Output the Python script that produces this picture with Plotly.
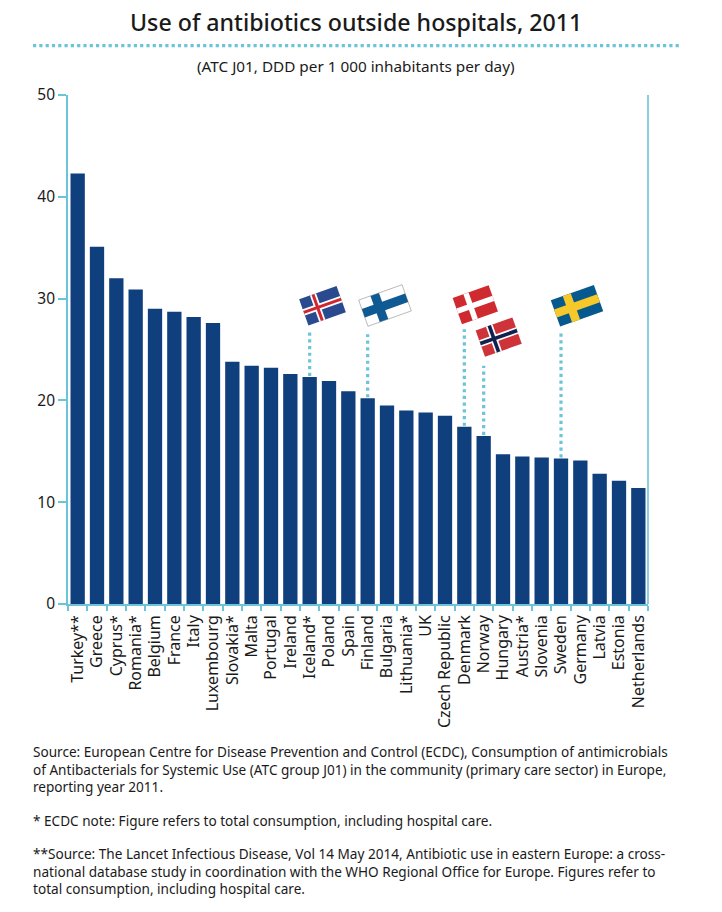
import math
import plotly.graph_objects as go

countries = ["Turkey**", "Greece", "Cyprus*", "Romania*", "Belgium", "France", "Italy", "Luxembourg",
             "Slovakia*", "Malta", "Portugal", "Ireland", "Iceland*", "Poland", "Spain", "Finland",
             "Bulgaria", "Lithuania*", "UK", "Czech Republic", "Denmark", "Norway", "Hungary", "Austria*",
             "Slovenia", "Sweden", "Germany", "Latvia", "Estonia", "Netherlands"]
values = [42.3, 35.1, 32.0, 30.9, 29.0, 28.7, 28.2, 27.6,
          23.8, 23.4, 23.2, 22.6, 22.3, 21.9, 20.9, 20.2,
          19.5, 19.0, 18.8, 18.5, 17.4, 16.5, 14.7, 14.5,
          14.4, 14.3, 14.1, 12.8, 12.1, 11.4]
y_ticks = [0, 10, 20, 30, 40, 50]

title = "Use of antibiotics outside hospitals, 2011"
subtitle = "(ATC J01, DDD per 1 000 inhabitants per day)"
footer_paragraphs = [
    (["Source: European Centre for Disease Prevention and Control (ECDC), Consumption of antimicrobials",
      "of Antibacterials for Systemic Use (ATC group J01) in the community (primary care sector) in Europe,",
      "reporting year 2011."], 770),
    (["* ECDC note: Figure refers to total consumption, including hospital care."], 821),
    (["**Source: The Lancet Infectious Disease, Vol 14 May 2014, Antibiotic use in eastern Europe: a cross-",
      "national database study in coordination with the WHO Regional Office for Europe. Figures refer to",
      "total consumption, including hospital care."], 872),
]
leader_tops = {"Iceland*": 26.7, "Finland": 26.5, "Denmark": 27.0, "Norway": 23.4, "Sweden": 26.6}

W, H = 722, 912
L, R, T, B = 68, 648, 95, 604.5
FONT = "Noto Sans"
TEAL = "#6cc4d8"
NAVY = "#0f3f7c"
INK = "#1a1a1a"


def px(x):
    return (x - L) / (R - L)


def py(y):
    return (B - y) / (B - T)


def flag(cx, cy, w, h, bg, crosses, border=None, vpos=0.37):
    """Tilted Nordic cross flag made of paper-referenced polygons."""
    a = math.radians(-19.5)
    out = []

    def poly(u0, u1, v0, v1, color, line=None):
        pts = []
        for u, v in [(u0, v0), (u1, v0), (u1, v1), (u0, v1)]:
            X = cx + (u - 0.5) * w * math.cos(a) - (v - 0.5) * h * math.sin(a)
            Y = cy + (u - 0.5) * w * math.sin(a) + (v - 0.5) * h * math.cos(a)
            pts.append(f"{px(X):.5f},{py(Y):.5f}")
        out.append(dict(type="path", xref="paper", yref="paper", layer="above",
                        path="M" + " L".join(pts) + " Z", fillcolor=color,
                        line=dict(color=line or color, width=0.8 if line else 0)))

    poly(0, 1, 0, 1, bg, border)
    for color, t in crosses:
        poly(vpos - t / w / 2, vpos + t / w / 2, 0, 1, color)
        poly(0, 1, 0.5 - t / h / 2, 0.5 + t / h / 2, color)
    return out


shapes = [
    dict(type="line", xref="paper", yref="paper", x0=px(33), x1=px(680), y0=py(45.5), y1=py(45.5),
         line=dict(color=TEAL, width=3.2, dash="3.2px,3.1px")),
    dict(type="line", xref="paper", yref="paper", x0=1, x1=1, y0=0, y1=1, line=dict(color=TEAL, width=1.6)),
]
for name, top in leader_tops.items():
    shapes.append(dict(type="line", xref="x", yref="y", x0=name, x1=name,
                       y0=values[countries.index(name)] + 0.1, y1=top, layer="above",
                       line=dict(color=TEAL, width=3.2, dash="3.2px,3.5px")))

shapes += flag(322.5, 306, 39.7, 27.8, "#2a4a90", [("#ffffff", 6.5), ("#d0262f", 3)])
shapes += flag(385, 305.7, 46, 27.8, "#ffffff", [("#0f5a92", 9)], border="#a8a8a8")
shapes += flag(475.3, 305, 38.2, 27.8, "#cf2a30", [("#ffffff", 5.5)])
shapes += flag(498.7, 337.3, 39, 28, "#cf333a", [("#ffffff", 7), ("#10204f", 3.6)])
shapes += flag(577, 306, 45.7, 28, "#06598f", [("#f7c82a", 8.5)])

annotations = [
    dict(text=title, xref="paper", yref="paper", x=px(355.5), y=py(22), xanchor="center", yanchor="middle",
         showarrow=False, font=dict(family=FONT, size=23.2, color=INK, weight=500)),
    dict(text=subtitle, xref="paper", yref="paper", x=px(356), y=py(66), xanchor="center", yanchor="middle",
         showarrow=False, font=dict(family=FONT, size=15.3, color=INK)),
]
for lines, y in footer_paragraphs:
    annotations.append(dict(text="<br>".join(lines), xref="paper", yref="paper", x=px(30.5), y=py(y),
                            xanchor="left", yanchor="middle", align="left", showarrow=False,
                            font=dict(family=FONT, size=13.6, color=INK)))

fig = go.Figure(go.Bar(x=countries, y=values, marker=dict(color=NAVY, line=dict(width=0)), width=0.74,
                       hoverinfo="skip"))
fig.update_layout(
    width=W, height=H, autosize=False, margin=dict(l=L, r=W - R, t=T, b=H - B, pad=0),
    paper_bgcolor="white", plot_bgcolor="white", showlegend=False,
    shapes=shapes, annotations=annotations, font=dict(family=FONT, color=INK),
)
fig.update_xaxes(type="category", categoryorder="array", categoryarray=countries, tickangle=-90,
                 tickson="boundaries", ticks="outside", ticklen=5, tickcolor=TEAL, tickwidth=1.6,
                 showline=True, linecolor=TEAL, linewidth=1.6, showgrid=False,
                 tickfont=dict(family=FONT, size=16, color=INK), ticklabelstandoff=3, automargin=False)
fig.update_yaxes(range=[0, 50], tickvals=y_ticks, ticks="outside", ticklen=8, tickcolor=TEAL, tickwidth=1.6,
                 showline=True, linecolor=TEAL, linewidth=1.6, showgrid=False, zeroline=False,
                 tickfont=dict(family=FONT, size=15.5, color=INK), automargin=False)
fig.write_html("out.html", config={"displayModeBar": False},
               post_script="document.body.style.margin='0';")
